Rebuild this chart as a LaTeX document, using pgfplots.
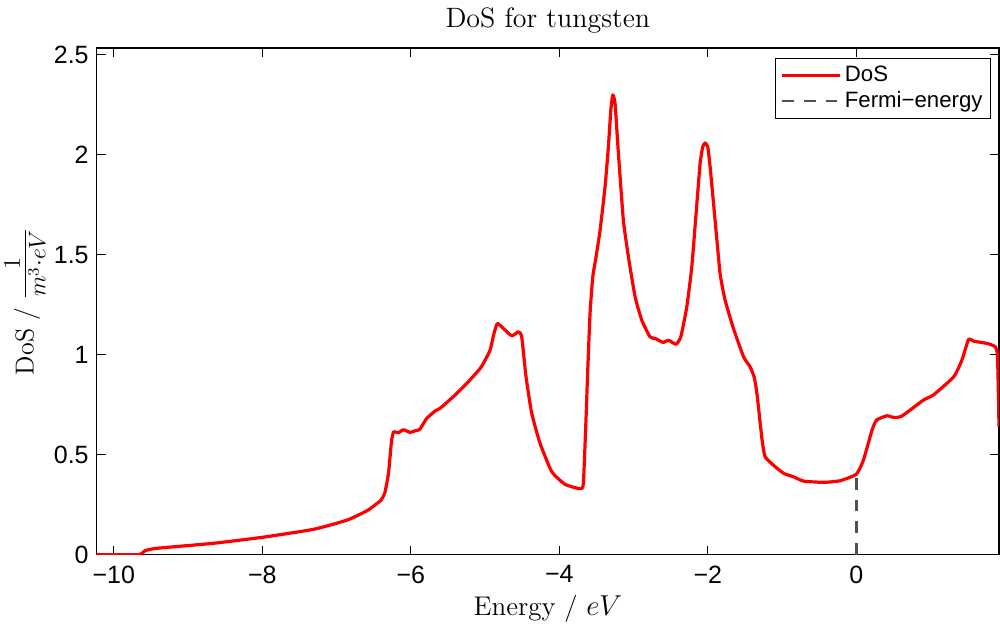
\documentclass[border=0pt]{standalone}
\usepackage{fontspec}
\usepackage{pgfplots}
\pgfplotsset{compat=1.18}
\newfontfamily\arial{Liberation Sans}
\definecolor{fermigray}{RGB}{80,80,80}
\begin{document}
\begin{tikzpicture}
\begin{axis}[
  scale only axis,
  width=451.15pt, height=253.35pt,
  xmin=-10.23, xmax=1.92, ymin=0, ymax=2.535,
  axis line style={line width=0.6pt},
  tick style={line width=0.5pt, black},
  tick align=inside,
  major tick length=4.5pt,
  xtick={-10,-8,-6,-4,-2,0},
  xticklabels={−10,−8,−6,−4,−2,0},
  ytick={0,0.5,1,1.5,2,2.5},
  yticklabels={0,0.5,1,1.5,2,2.5},
  tick label style={font=\arial\fontsize{12.5}{14}\selectfont},
  xticklabel style={yshift=-2pt},
  yticklabel style={xshift=-0.5pt},
  title={DoS for tungsten},
  title style={at={(axis description cs:0.5,1)}, anchor=base, yshift=4pt, font=\fontsize{14}{16}\selectfont},
  xlabel={Energy / $eV$},
  xlabel style={at={(axis description cs:0.5,0)}, anchor=base, yshift=-30.15pt, font=\fontsize{13.5}{15}\selectfont},
  ylabel={DoS / {\fontsize{17}{19}\selectfont$\frac{1}{m^3\cdot eV}$}},
  ylabel style={at={(axis description cs:-0.0795,0.5)}, anchor=center, font=\fontsize{13}{15}\selectfont},
  legend style={at={(axis description cs:0.9911,0.9809)}, anchor=north east, draw=black, line width=0.5pt,
    font=\arial\fontsize{11.1}{13}\selectfont, inner xsep=2.5pt, inner ysep=2.5pt, row sep=0.5pt,
    nodes={inner sep=1.5pt}},
  legend cell align=left,
  legend image code/.code={\draw[#1] (0pt,0pt) -- (29pt,0pt);},
]
\addplot[red, line width=1.6pt, line join=round, smooth, tension=0.3] coordinates {
(-10.23,0) (-9.67,0) (-9.58,0.02) (-9.42,0.032) (-8.66,0.057) (-8.0,0.087)
(-7.31,0.127) (-6.86,0.173) (-6.59,0.22) (-6.41,0.27) (-6.35,0.31) (-6.30,0.41)
(-6.26,0.57) (-6.23,0.615) (-6.17,0.61) (-6.10,0.625) (-6.01,0.612) (-5.94,0.62)
(-5.88,0.627) (-5.79,0.68) (-5.67,0.72) (-5.607,0.732) (-5.43,0.79) (-5.247,0.857)
(-5.07,0.93) (-5.024,0.957) (-4.933,1.023) (-4.88,1.107) (-4.835,1.157) (-4.754,1.132)
(-4.641,1.095) (-4.552,1.115) (-4.507,1.09) (-4.449,0.89) (-4.372,0.707) (-4.26,0.557)
(-4.102,0.415) (-3.923,0.352) (-3.721,0.33) (-3.677,0.357) (-3.64,0.69) (-3.623,0.873)
(-3.587,1.207) (-3.55,1.39) (-3.506,1.49) (-3.452,1.623) (-3.385,1.84) (-3.34,2.04)
(-3.308,2.22) (-3.281,2.30) (-3.25,2.257) (-3.205,2.007) (-3.138,1.673) (-3.07,1.49)
(-2.98,1.29) (-2.89,1.173) (-2.78,1.09) (-2.71,1.082) (-2.60,1.062) (-2.53,1.073)
(-2.43,1.053) (-2.365,1.09) (-2.284,1.24) (-2.217,1.44) (-2.159,1.707) (-2.105,1.957)
(-2.07,2.04) (-2.038,2.06) (-2.002,2.04) (-1.97,1.94) (-1.903,1.673) (-1.836,1.407)
(-1.768,1.273) (-1.656,1.132) (-1.52,0.99) (-1.432,0.94) (-1.378,0.89) (-1.34,0.807)
(-1.27,0.573) (-1.23,0.49) (-1.118,0.448) (-0.98,0.407) (-0.85,0.39) (-0.71,0.368)
(-0.44,0.362) (-0.22,0.37) (0,0.403) (0.094,0.473) (0.21,0.623) (0.27,0.673)
(0.41,0.695) (0.50,0.687) (0.61,0.693) (0.90,0.773) (1.04,0.80) (1.31,0.89)
(1.42,0.973) (1.51,1.077) (1.58,1.068) (1.76,1.057) (1.87,1.04) (1.90,0.99) (1.92,0.64)
};
\addlegendentry{DoS}
\addplot[fermigray, line width=1.2pt, dash pattern=on 5.8pt off 5pt] coordinates {(0,0) (0,0.403)};
\addlegendentry{Fermi−energy}
\end{axis}
\pgfresetboundingbox
\path (current axis.south west) ++(-48.35pt,-37.65pt) rectangle ++(500pt,315pt);
\end{tikzpicture}
\end{document}
